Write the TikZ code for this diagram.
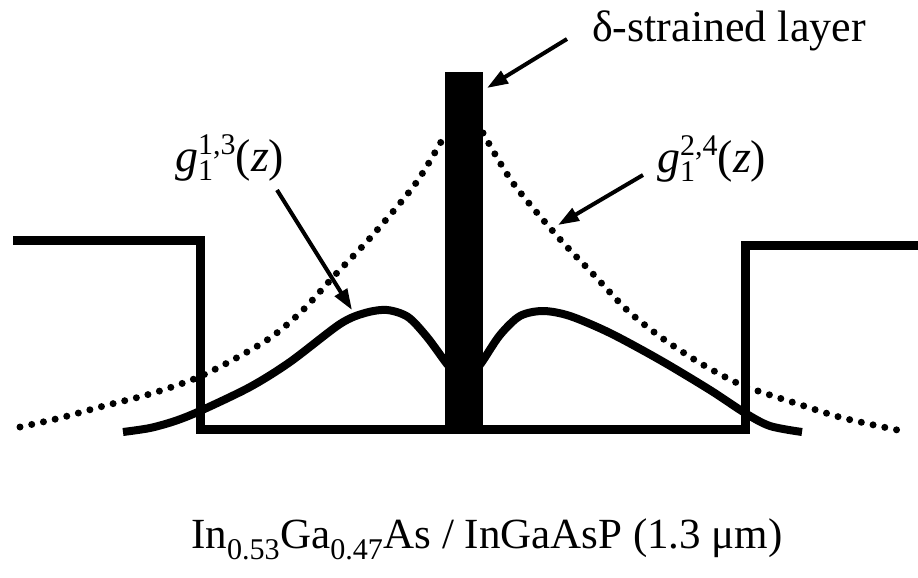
\documentclass[tikz,border=0pt]{standalone}
\usepackage{fontspec}
\setmainfont{Liberation Serif}
\usetikzlibrary{arrows.meta}
\tikzset{
  wall/.style={line width=9pt, line join=miter},
  wave/.style={line width=8pt},
  dots/.style={line width=7pt, line cap=round, dash pattern=on 0pt off 12pt},
  pointer/.style={line width=4pt, -{Triangle[length=21pt,width=14pt]}},
  lab/.style={inner sep=0pt, anchor=base west},
}
\newcommand{\glab}[1]{\textit{g}\makebox[0pt][l]{\raisebox{-0.2em}{\fontsize{30}{30}\selectfont 1}}\raisebox{0.36em}{\fontsize{30}{30}\selectfont #1}(\textit{z})}
\begin{document}
\begin{tikzpicture}[x=1pt,y=-1pt]
\useasboundingbox (0,0) rectangle (918,578);
% potential profile
\draw[wall] (13,240) -- (200,240) -- (200,429) -- (745,429) -- (745,245) -- (918,245);
% dotted curves
\draw[dots] plot[smooth] coordinates {(20,427) (60,418) (100,407) (150,394) (194,379) (229,362) (270,338) (302,311) (335,275) (371,237) (416,183) (446,133)};
\draw[dots] plot[smooth] coordinates {(483,133) (513,183) (558,237) (594,275) (627,310) (662,338) (700,363) (735,382) (758,391) (795,403) (843,418) (907,432)};
% solid curves
\draw[wave] plot[smooth] coordinates {(123,432) (150,428) (175,421) (200,411) (250,387) (290,362) (340,324) (365,313) (387,310) (408,317) (427,337) (447,364) (455,372)};
\draw[wave] plot[smooth] coordinates {(474,372) (482,362) (500,335) (520,316) (543,311) (570,316) (610,333) (660,360) (710,390) (745,413) (770,426) (802,432)};
% delta layer
\node[fill=black, inner sep=0pt, minimum width=38pt, minimum height=360pt, anchor=north west] (bar) at (445,72) {};
% labels
\node[lab, font=\fontsize{44}{50}\selectfont] (dlab) at (592,42) {δ-strained layer};
\node[lab, font=\fontsize{46}{52}\selectfont] (g13) at (175,171) {\glab{1,3}};
\node[lab, font=\fontsize{46}{52}\selectfont] (g24) at (657,172) {\glab{2,4}};
\node[inner sep=0pt, anchor=base, font=\fontsize{43}{50}\selectfont] (mat) at (487,548) {In\textsubscript{0.53}Ga\textsubscript{0.47}As / InGaAsP (1.3 μm)};
% arrows
\coordinate (d1) at (567,39); \coordinate (d2) at (487,88);
\coordinate (a1) at (277,190); \coordinate (a2) at (352,310);
\coordinate (b1) at (643,175); \coordinate (b2) at (558,225);
\draw[pointer] (d1) -- (d2);
\draw[pointer] (a1) -- (a2);
\draw[pointer] (b1) -- (b2);
\end{tikzpicture}
\end{document}
